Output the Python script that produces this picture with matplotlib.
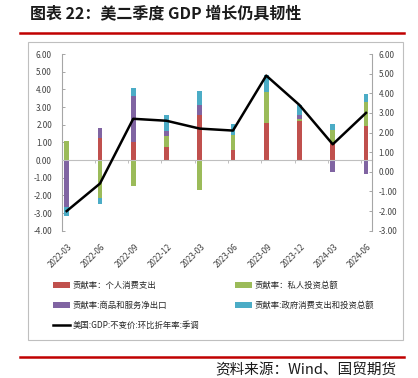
import matplotlib
matplotlib.use('Agg')
import matplotlib.pyplot as plt
import numpy as np
from matplotlib.patches import Rectangle, Patch
from matplotlib.lines import Line2D

plt.rcParams['font.family'] = ['Noto Sans CJK SC', 'DejaVu Sans']

# ---------------- data ----------------
quarters = ['2022-03', '2022-06', '2022-09', '2022-12', '2023-03',
            '2023-06', '2023-09', '2023-12', '2024-03', '2024-06']
pce = [0.00, 1.25, 1.00, 0.76, 2.52, 0.55, 2.10, 2.19, 0.94, 1.95]
private_inv = [1.10, -2.16, -1.46, 0.60, -1.70, 0.89, 1.74, 0.12, 0.78, 1.31]
net_exports = [-2.65, 0.57, 2.61, 0.30, 0.57, 0.00, 0.00, 0.26, -0.68, -0.80]
gov = [-0.50, -0.31, 0.48, 0.90, 0.81, 0.58, 0.99, 0.56, 0.33, 0.45]
gdp = [-2.0, -0.6, 2.7, 2.6, 2.2, 2.1, 4.9, 3.4, 1.4, 3.0]

series_names = ['贡献率：个人消费支出', '贡献率：私人投资总额',
                '贡献率:商品和服务净出口', '贡献率:政府消费支出和投资总额']
line_name = '美国:GDP:不变价:环比折年率:季调'
colors = ['#C0504D', '#9BBB59', '#8064A2', '#4BACC6']

left_ticks = [-4, -3, -2, -1, 0, 1, 2, 3, 4, 5, 6]
right_ticks = [-3, -2, -1, 0, 1, 2, 3, 4, 5, 6]

title = '图表 22：美二季度 GDP 增长仍具韧性'
source = '资料来源：Wind、国贸期货'

# ---------------- figure ----------------
W, H = 418, 378
fig = plt.figure(figsize=(W / 100, H / 100), dpi=100)

def fx(px):
    return px / W

def fy(py):
    return 1 - py / H

# title and decorations
fig.text(fx(30), fy(13), title, fontsize=11.5, fontweight='bold',
         ha='left', va='center', color='#1a1a1a')
fig.add_artist(Line2D([fx(20), fx(404)], [fy(32.7), fy(32.7)],
                      color='#C00000', lw=1.8, transform=fig.transFigure))
fig.add_artist(Rectangle((fx(28), fy(340)), fx(403) - fx(28), fy(42) - fy(340),
                         transform=fig.transFigure, fill=False,
                         edgecolor='#BFBFBF', lw=0.8))
fig.add_artist(Line2D([fx(20), fx(404)], [fy(357), fy(357)],
                      color='#C00000', lw=1.8, transform=fig.transFigure))
fig.text(fx(396), fy(370), source, fontsize=10.5, ha='right', va='center',
         color='#1a1a1a')

# axes
ax_l, ax_r, ax_t, ax_b = 61.7, 371.5, 54, 230.7
ax = fig.add_axes([fx(ax_l), fy(ax_b), fx(ax_r) - fx(ax_l), fy(ax_t) - fy(ax_b)])
ax.patch.set_alpha(0)

x = np.arange(len(quarters))
pos_cum = np.zeros(len(quarters))
neg_cum = np.zeros(len(quarters))
handles = []
for vals, c, name in zip([pce, private_inv, net_exports, gov], colors, series_names):
    v = np.array(vals, dtype=float)
    bottom = np.where(v >= 0, pos_cum, neg_cum)
    ax.bar(x, v, width=0.14, bottom=bottom, color=c, edgecolor='none', zorder=2)
    pos_cum = pos_cum + np.where(v > 0, v, 0)
    neg_cum = neg_cum + np.where(v < 0, v, 0)
    handles.append(Patch(facecolor=c, edgecolor='none', label=name))

ax.set_xlim(-0.15, len(quarters) - 1 + 0.165)
ax.set_ylim(-4, 6)
ax.set_yticks(left_ticks)
ax.set_yticklabels([f'{t:.2f}' for t in left_ticks])

for s in ['top', 'right']:
    ax.spines[s].set_visible(False)
ax.spines['left'].set_color('#A6A6A6')
ax.spines['left'].set_linewidth(0.8)
ax.spines['bottom'].set_position(('data', 0))
ax.spines['bottom'].set_color('#BFBFBF')
ax.spines['bottom'].set_linewidth(0.8)
ax.tick_params(axis='y', direction='in', length=2.2, width=0.7, color='#A6A6A6',
               labelsize=5.8, labelcolor='#404040', pad=7)
ax.set_xticks(np.arange(len(quarters) - 1) + 0.85)
ax.set_xticklabels([])
ax.tick_params(axis='x', direction='out', length=2.2, width=0.7, color='#BFBFBF')

# category labels
trans = ax.get_xaxis_transform()
for i, q in enumerate(quarters):
    ax.text(i + 0.03, -0.065, q, transform=trans, rotation=45, ha='right',
            va='top', rotation_mode='anchor', fontsize=5.8, color='#404040')

# right axis with GDP line
ax2 = ax.twinx()
ax2.set_ylim(-3, 6)
ax2.set_yticks(right_ticks)
ax2.set_yticklabels([f'{t:.2f}' for t in right_ticks])
for s in ['top', 'left', 'bottom']:
    ax2.spines[s].set_visible(False)
ax2.spines['right'].set_color('#A6A6A6')
ax2.spines['right'].set_linewidth(0.8)
ax2.tick_params(axis='y', direction='in', length=2.2, width=0.7, color='#A6A6A6',
                labelsize=5.8, labelcolor='#404040', pad=5)
ln, = ax2.plot(x, gdp, color='black', lw=1.8, zorder=3, label=line_name)

# legend
leg_kw = dict(frameon=False, fontsize=6, handlelength=2.0, handleheight=0.6,
              handletextpad=0.3, labelspacing=1.3, borderpad=0,
              borderaxespad=0, loc='upper left')
leg1 = fig.legend([handles[0], handles[2], Line2D([], [], color='black', lw=1.8)],
                  [series_names[0], series_names[2], line_name],
                  bbox_to_anchor=(fx(53), fy(281)), **leg_kw)
leg2 = fig.legend([handles[1], handles[3]], [series_names[1], series_names[3]],
                  bbox_to_anchor=(fx(235), fy(281)), **leg_kw)
for lg in (leg1, leg2):
    for t in lg.get_texts():
        t.set_color('#262626')

fig.savefig('out.png', dpi=100)
